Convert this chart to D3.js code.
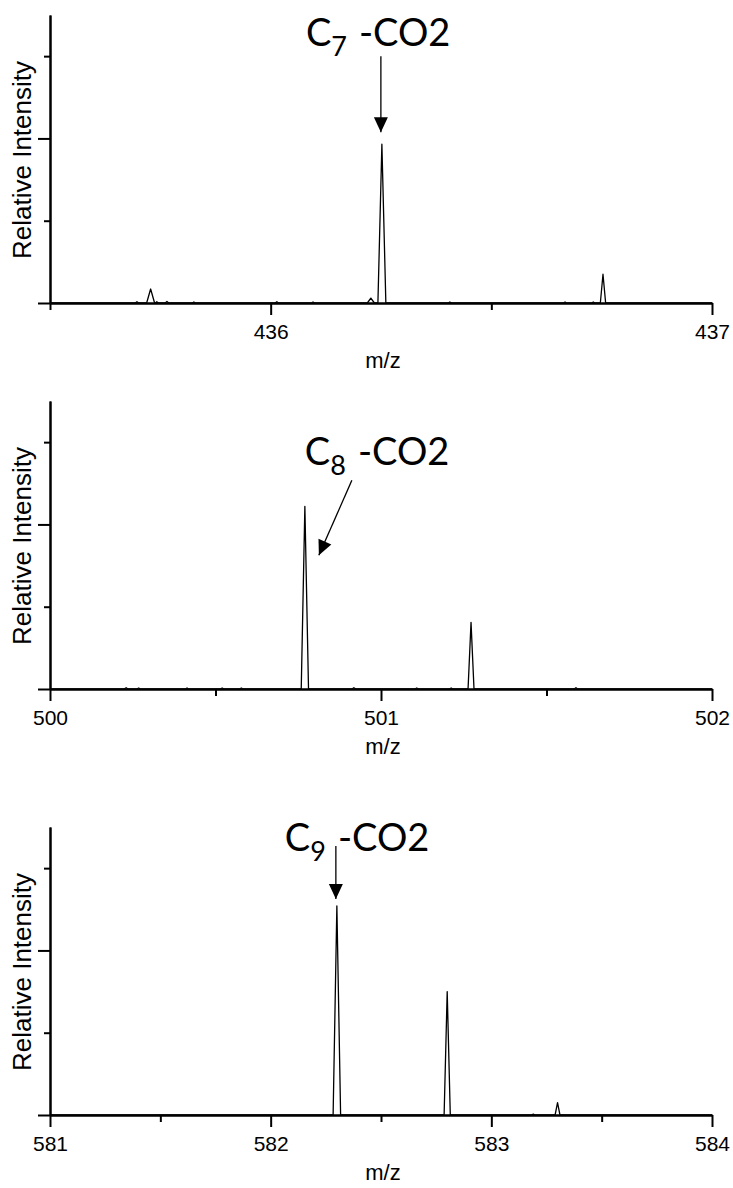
<!DOCTYPE html>
<html>
<head>
<meta charset="utf-8">
<script src="https://cdn.jsdelivr.net/npm/d3@7"></script>
<style>
  body { margin: 0; background: #fff; }
  svg { display: block; }
</style>
</head>
<body>
<div id="chart"></div>
<script>
// x axes (m/z) for the three spectra
var xDomains = [[435.5, 437], [500, 502], [581, 584]];
var xMajor = [[436, 437], [500, 501, 502], [581, 582, 583, 584]];
var xMinor = [[435.5, 436.5], [500.5, 501.5], [581.5, 582.5, 583.5]];

// y axis (relative intensity, unlabeled ticks)
var yMax = 3.5;
var yMajor = [0, 2];
var yMinor = [1, 3];

// peaks: centre m/z, height, half width at base
var c7Mz  = [435.697, 435.728, 435.742, 435.765, 435.826, 436.014, 436.096, 436.227, 436.252, 436.406, 436.667, 436.731, 436.753];
var c7Int = [0.015, 0.17, 0.015, 0.02, 0.012, 0.015, 0.012, 0.06, 1.93, 0.012, 0.012, 0.012, 0.35];
var c7Hw  = [0.004, 0.009, 0.003, 0.004, 0.004, 0.004, 0.004, 0.008, 0.009, 0.004, 0.004, 0.004, 0.006];

var c8Mz  = [500.230, 500.268, 500.414, 500.520, 500.578, 500.770, 500.918, 501.108, 501.212, 501.272, 501.589];
var c8Int = [0.015, 0.012, 0.012, 0.012, 0.012, 2.22, 0.015, 0.012, 0.012, 0.81, 0.015];
var c8Hw  = [0.006, 0.006, 0.006, 0.006, 0.006, 0.011, 0.006, 0.006, 0.006, 0.009, 0.006];

var c9Mz  = [582.30, 582.80, 583.19, 583.30];
var c9Int = [2.54, 1.50, 0.01, 0.15];
var c9Hw  = [0.017, 0.014, 0.008, 0.011];

var labels = ["7", "8", "9"];

var spectra = [
  { mz: c7Mz, inten: c7Int, hw: c7Hw },
  { mz: c8Mz, inten: c8Int, hw: c8Hw },
  { mz: c9Mz, inten: c9Int, hw: c9Hw }
];

// panel layout (pixels)
var left = 50, right = 712;
var tops = [15, 401, 827], bases = [303, 689, 1115];
// annotation placement relative to the labelled peak top
var anno = [
  { peak: 8, textDx: -76, textDy: -98, x1: -1, y1: -88, x2: -1, y2: -12 },
  { peak: 5, textDx: 0,   textDy: -41, x1: 47, y1: -26, x2: 14, y2: 49 },
  { peak: 0, textDx: -52, textDy: -55, x1: -1, y1: -60, x2: -1, y2: -7 }
];

var svg = d3.select("#chart").append("svg")
  .attr("width", 733).attr("height", 1188);

svg.append("defs").append("marker")
  .attr("id", "head")
  .attr("markerUnits", "userSpaceOnUse")
  .attr("viewBox", "-16 -8 17 16")
  .attr("refX", 0).attr("refY", 0)
  .attr("markerWidth", 17).attr("markerHeight", 16)
  .attr("orient", "auto")
  .append("path")
  .attr("d", "M0,0L-15,-7L-15,7Z")
  .attr("fill", "#000");

function profile(s, dom) {
  var pts = [[dom[0], 0]];
  s.mz.forEach(function(m, i) {
    pts.push([m - s.hw[i], 0], [m, s.inten[i]], [m + s.hw[i], 0]);
  });
  pts.push([dom[1], 0]);
  return pts;
}

spectra.forEach(function(s, p) {
  var x = d3.scaleLinear().domain(xDomains[p]).range([left, right]);
  var y = d3.scaleLinear().domain([0, yMax]).range([bases[p], tops[p]]);
  var g = svg.append("g");

  // spectrum trace
  g.append("path")
    .datum(profile(s, xDomains[p]))
    .attr("fill", "none")
    .attr("stroke", "#000")
    .attr("stroke-width", 1.3)
    .attr("stroke-linejoin", "round")
    .attr("d", d3.line().x(function(d) { return x(d[0]); }).y(function(d) { return y(d[1]); }));

  // x axis
  var gx = g.append("g").attr("transform", "translate(0," + bases[p] + ")");
  gx.append("g").call(d3.axisBottom(x).tickValues(xMinor[p]).tickSize(7).tickSizeOuter(0).tickFormat(""));
  gx.append("g").call(d3.axisBottom(x).tickValues(xMajor[p]).tickSize(12).tickSizeOuter(0).tickPadding(9).tickFormat(d3.format("d")));
  gx.selectAll("path.domain, line").attr("stroke", "#000").attr("stroke-width", 2);
  gx.selectAll("text").attr("font-family", "'Liberation Sans', Arial, sans-serif").attr("font-size", 21).attr("fill", "#000");

  // y axis
  var gy = g.append("g").attr("transform", "translate(" + left + ",0)");
  gy.append("g").call(d3.axisLeft(y).tickValues(yMinor).tickSize(6).tickSizeOuter(0).tickFormat(""));
  gy.append("g").call(d3.axisLeft(y).tickValues(yMajor).tickSize(12).tickSizeOuter(0).tickFormat(""));
  gy.selectAll("path.domain, line").attr("stroke", "#000").attr("stroke-width", 2);

  // axis titles
  g.append("text")
    .attr("x", (left + right) / 2 + 2).attr("y", bases[p] + 65)
    .attr("text-anchor", "middle")
    .attr("font-family", "'Liberation Sans', Arial, sans-serif")
    .attr("font-size", 22)
    .text("m/z");
  g.append("text")
    .attr("transform", "translate(31," + (tops[p] + 145) + ") rotate(-90)")
    .attr("text-anchor", "middle")
    .attr("font-family", "'Liberation Sans', Arial, sans-serif")
    .attr("font-size", 26)
    .text("Relative Intensity");

  // annotation
  var a = anno[p];
  var px = x(s.mz[a.peak]), py = y(s.inten[a.peak]);
  var t = g.append("text")
    .attr("x", px + a.textDx).attr("y", py + a.textDy)
    .attr("font-family", "Lato, 'Open Sans', sans-serif")
    .attr("font-size", 38)
    .attr("fill", "#000");
  t.append("tspan").text("C");
  t.append("tspan").attr("font-size", 27).attr("dy", 10).text(labels[p]);
  t.append("tspan").attr("dy", -10).attr("dx", 12).text("-CO2");

  g.append("line")
    .attr("x1", px + a.x1).attr("y1", py + a.y1)
    .attr("x2", px + a.x2).attr("y2", py + a.y2)
    .attr("stroke", "#000")
    .attr("stroke-width", 1.3)
    .attr("marker-end", "url(#head)");
});
</script>
</body>
</html>
